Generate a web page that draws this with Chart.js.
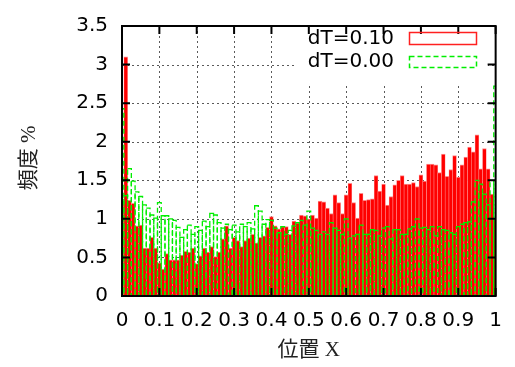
<!DOCTYPE html>
<html>
<head>
<meta charset="utf-8">
<script src="https://cdn.jsdelivr.net/npm/chart.js@4.4.1/dist/chart.umd.min.js"></script>
<style>
  html, body { margin: 0; padding: 0; background: #fff; }
  #wrap { width: 515px; height: 367px; }
</style>
</head>
<body>
<div id="wrap"><canvas id="chart" width="515" height="367"></canvas></div>
<script>
// bin centres (position X)
const binX = [
  0.00, 0.01, 0.02, 0.03, 0.04, 0.05, 0.06, 0.07, 0.08, 0.09,
  0.10, 0.11, 0.12, 0.13, 0.14, 0.15, 0.16, 0.17, 0.18, 0.19,
  0.20, 0.21, 0.22, 0.23, 0.24, 0.25, 0.26, 0.27, 0.28, 0.29,
  0.30, 0.31, 0.32, 0.33, 0.34, 0.35, 0.36, 0.37, 0.38, 0.39,
  0.40, 0.41, 0.42, 0.43, 0.44, 0.45, 0.46, 0.47, 0.48, 0.49,
  0.50, 0.51, 0.52, 0.53, 0.54, 0.55, 0.56, 0.57, 0.58, 0.59,
  0.60, 0.61, 0.62, 0.63, 0.64, 0.65, 0.66, 0.67, 0.68, 0.69,
  0.70, 0.71, 0.72, 0.73, 0.74, 0.75, 0.76, 0.77, 0.78, 0.79,
  0.80, 0.81, 0.82, 0.83, 0.84, 0.85, 0.86, 0.87, 0.88, 0.89,
  0.90, 0.91, 0.92, 0.93, 0.94, 0.95, 0.96, 0.97, 0.98, 0.99,
  1.00
];

// frequency %, dT=0.10 (red filled boxes)
const freqDT010 = [
  1.20, 3.10, 1.24, 1.20, 0.91, 0.92, 0.62, 0.62, 0.76, 0.62,
  0.43, 0.35, 0.55, 0.47, 0.47, 0.47, 0.53, 0.58, 0.57, 0.62,
  0.42, 0.52, 0.62, 0.57, 0.64, 0.51, 0.57, 0.74, 0.91, 0.62,
  0.76, 0.72, 0.64, 0.72, 0.75, 0.80, 0.69, 0.76, 0.78, 0.89,
  1.03, 0.91, 0.87, 0.90, 0.90, 0.80, 0.97, 0.95, 1.05, 1.04,
  1.00, 1.05, 1.01, 1.23, 1.22, 1.14, 1.07, 1.31, 1.21, 1.07,
  1.31, 1.46, 1.21, 1.01, 1.33, 1.24, 1.25, 1.26, 1.56, 1.36,
  1.45, 1.18, 1.29, 1.44, 1.50, 1.56, 1.45, 1.45, 1.47, 1.42,
  1.57, 1.49, 1.71, 1.71, 1.70, 1.60, 1.84, 1.55, 1.64, 1.82,
  1.54, 1.70, 1.80, 1.93, 1.87, 2.09, 1.65, 1.91, 1.65, 1.32,
  1.00
];

// frequency %, dT=0.00 (green dashed boxes)
const freqDT000 = [
  2.43, 1.30, 1.65, 1.49, 1.35, 1.29, 1.18, 1.14, 1.05, 1.01,
  1.21, 1.04, 1.04, 1.00, 0.98, 0.89, 0.76, 0.86, 0.92, 0.80,
  0.90, 0.85, 0.97, 0.90, 1.07, 1.05, 0.95, 0.88, 0.93, 0.86,
  0.92, 0.83, 0.93, 0.90, 0.95, 0.87, 1.17, 1.10, 0.93, 0.99,
  0.98, 0.88, 0.82, 0.90, 0.80, 0.85, 0.91, 0.95, 0.98, 0.92,
  1.10, 0.88, 0.85, 0.80, 0.83, 0.80, 0.95, 0.88, 0.85, 0.80,
  1.00, 0.75, 0.78, 0.80, 0.92, 0.80, 0.80, 0.86, 0.85, 0.78,
  0.88, 0.90, 0.74, 0.86, 0.86, 0.80, 0.80, 0.87, 0.90, 1.00,
  0.88, 0.89, 0.86, 0.90, 0.78, 0.90, 0.86, 0.85, 0.82, 0.80,
  0.90, 0.93, 0.95, 0.96, 1.22, 1.50, 1.45, 1.32, 1.18, 1.50,
  2.72
];

const seriesNames = ['dT=0.10', 'dT=0.00'];
const xTicks = [0, 0.1, 0.2, 0.3, 0.4, 0.5, 0.6, 0.7, 0.8, 0.9, 1];
const xTickLabels = ['0', '0.1', '0.2', '0.3', '0.4', '0.5', '0.6', '0.7', '0.8', '0.9', '1'];
const yTicks = [0, 0.5, 1, 1.5, 2, 2.5, 3, 3.5];
const yTickLabels = ['0', '0.5', '1', '1.5', '2', '2.5', '3', '3.5'];
const xTitle = '位置 X';
const yTitle = '頻度 %';

const tickFont = { family: '"DejaVu Sans", sans-serif', size: 20 };
const titleFont = '21px "Liberation Serif", "Noto Sans CJK JP", serif';

// gnuplot-like frame: dotted grid, key, dashed boxes, inward ticks
const gnuFrame = {
  id: 'gnuFrame',
  beforeDatasetsDraw(chart) {
    const { ctx, chartArea: a, scales: { x, y } } = chart;
    ctx.save();
    ctx.strokeStyle = '#5a5a5a';
    ctx.lineWidth = 1;
    ctx.setLineDash([2, 3]);
    xTicks.slice(1, -1).forEach(v => {
      const px = Math.round(x.getPixelForValue(v)) + 0.5;
      ctx.beginPath(); ctx.moveTo(px, a.top); ctx.lineTo(px, a.bottom); ctx.stroke();
    });
    yTicks.slice(1, -1).forEach(v => {
      const py = Math.round(y.getPixelForValue(v)) + 0.5;
      ctx.beginPath(); ctx.moveTo(a.left, py); ctx.lineTo(a.right, py); ctx.stroke();
    });
    // key area hides the grid
    ctx.fillStyle = '#fff';
    ctx.fillRect(296, a.top, 192, 57);
    ctx.restore();
  },
  afterDatasetsDraw(chart) {
    const { ctx, chartArea: a, scales: { x, y } } = chart;
    ctx.save();

    // dT=0.00 as dashed outline boxes
    ctx.beginPath();
    ctx.rect(a.left, a.top, a.right - a.left, a.bottom - a.top);
    ctx.clip();
    ctx.strokeStyle = '#00ee00';
    ctx.lineWidth = 1.3;
    ctx.setLineDash([5, 3]);
    chart.getDatasetMeta(1).data.forEach(el => {
      const l = el.x - el.width / 2;
      ctx.strokeRect(l, el.y, el.width, el.base - el.y);
    });
    ctx.restore();

    ctx.save();
    // border
    ctx.strokeStyle = '#000';
    ctx.lineWidth = 2;
    ctx.strokeRect(a.left, a.top, a.right - a.left, a.bottom - a.top);
    // inward ticks on all sides
    ctx.lineWidth = 2;
    const tl = 8;
    xTicks.forEach(v => {
      const px = x.getPixelForValue(v);
      ctx.beginPath();
      ctx.moveTo(px, a.bottom); ctx.lineTo(px, a.bottom - tl);
      ctx.moveTo(px, a.top); ctx.lineTo(px, a.top + tl);
      ctx.stroke();
    });
    yTicks.forEach(v => {
      const py = y.getPixelForValue(v);
      ctx.beginPath();
      ctx.moveTo(a.left, py); ctx.lineTo(a.left + tl, py);
      ctx.moveTo(a.right, py); ctx.lineTo(a.right - tl, py);
      ctx.stroke();
    });

    // key
    ctx.font = '20px "DejaVu Sans", sans-serif';
    ctx.fillStyle = '#000';
    ctx.textAlign = 'right';
    ctx.textBaseline = 'middle';
    ctx.fillText(seriesNames[0], 394, 39);
    ctx.fillText(seriesNames[1], 394, 62);
    ctx.lineWidth = 1.5;
    ctx.strokeStyle = '#ff2020';
    ctx.strokeRect(409.5, 32.5, 67, 12);
    ctx.strokeStyle = '#00ee00';
    ctx.setLineDash([5, 3]);
    ctx.strokeRect(409.5, 56.5, 67, 11);
    ctx.setLineDash([]);

    // axis titles
    ctx.font = titleFont;
    ctx.fillStyle = '#222';
    ctx.textAlign = 'center';
    ctx.fillText(xTitle, (a.left + a.right) / 2, 350);
    ctx.translate(29, 158);
    ctx.rotate(-Math.PI / 2);
    ctx.fillText(yTitle, 0, 0);
    ctx.restore();
  }
};

new Chart(document.getElementById('chart'), {
  type: 'bar',
  data: {
    datasets: [
      {
        label: seriesNames[0],
        data: binX.map((v, i) => ({ x: v, y: freqDT010[i] })),
        backgroundColor: '#ff0000',
        borderColor: '#ff8a8a',
        borderWidth: { top: 1, left: 0.6, right: 0.6, bottom: 0 },
        borderSkipped: false,
        barPercentage: 1,
        categoryPercentage: 1,
        grouped: false
      },
      {
        label: seriesNames[1],
        data: binX.map((v, i) => ({ x: v, y: freqDT000[i] })),
        backgroundColor: 'rgba(0,0,0,0)',
        borderWidth: 0,
        barPercentage: 1,
        categoryPercentage: 1,
        grouped: false
      }
    ]
  },
  options: {
    responsive: false,
    devicePixelRatio: 1,
    animation: false,
    layout: { padding: { top: 16, right: 11, left: 0, bottom: 0 } },
    plugins: { legend: { display: false }, tooltip: { enabled: false } },
    scales: {
      x: {
        type: 'linear',
        min: 0,
        max: 1,
        offset: false,
        grid: { display: false, drawTicks: false },
        border: { display: false },
        afterBuildTicks: s => { s.ticks = xTicks.map(v => ({ value: v })); },
        afterFit: s => { s.height = 71; },
        ticks: {
          font: tickFont,
          color: '#000',
          padding: 13,
          maxRotation: 0,
          autoSkip: false,
          callback: (v, i) => xTickLabels[i]
        }
      },
      y: {
        min: 0,
        max: 3.5,
        grid: { display: false, drawTicks: false },
        border: { display: false },
        afterBuildTicks: s => { s.ticks = yTicks.map(v => ({ value: v })); },
        afterFit: s => { s.width = 122; },
        ticks: {
          font: tickFont,
          color: '#000',
          padding: 14,
          autoSkip: false,
          callback: (v, i) => yTickLabels[i]
        }
      }
    }
  },
  plugins: [gnuFrame]
});
</script>
</body>
</html>
